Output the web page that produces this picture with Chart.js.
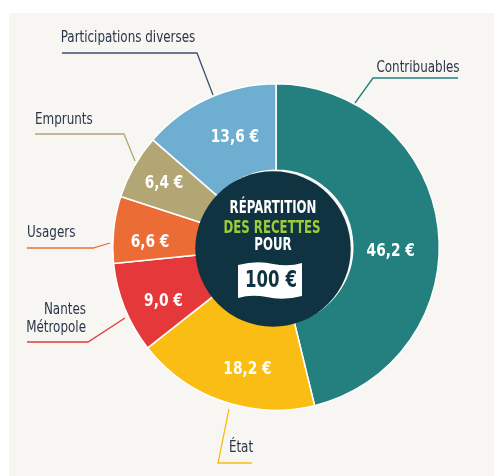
<!DOCTYPE html>
<html>
<head>
<meta charset="utf-8">
<script src="https://cdn.jsdelivr.net/npm/chart.js@4.4.0/dist/chart.umd.min.js"></script>
<style>
  html, body { margin: 0; padding: 0; background: #ffffff; }
  #wrap { position: relative; width: 494px; height: 476px; overflow: hidden; }
  #panel { position: absolute; left: 9px; top: 13px; right: 0; bottom: 0; background: #f7f6f2; }
  #graph { position: absolute; left: 0; top: 0; }
</style>
</head>
<body>
<div id="wrap">
  <div id="panel"></div>
  <canvas id="graph" width="494" height="476"></canvas>
</div>
<script>
var categories = ["Contribuables", "État", "Nantes Métropole", "Usagers", "Emprunts", "Participations diverses"];
var values = [46.2, 18.2, 9.0, 6.6, 6.4, 13.6];
var colors = ["#23807f", "#f9bd14", "#e4383a", "#ec6c35", "#b2a675", "#6eaed0"];

var FONT = "'DejaVu Sans Condensed', 'DejaVu Sans', sans-serif";

// where the value text sits: share of the ring width, and a small turn (degrees) off the slice middle
var labelRadius = [0.44, 0.57, 0.56, 0.57, 0.6, 0.47];
var labelTurn = [9, -6, -4, -4, 0, 4];

// callout lines + names drawn around the ring
var callouts = [
  { text: ["Contribuables"], tx: 418, ty: 68, align: "center", color: "#23807f", pts: [[355, 103], [373, 78], [458, 78]] },
  { text: ["État"], tx: 241, ty: 448, align: "center", color: "#f9bd14", pts: [[229, 409], [218, 463], [252, 463]] },
  { text: ["Nantes", "Métropole"], tx: 86, ty: 310, align: "right", color: "#e4383a", pts: [[125, 318], [88, 342], [27, 342]] },
  { text: ["Usagers"], tx: 27, ty: 233, align: "left", color: "#ec6c35", pts: [[110, 243], [93, 248], [27, 248]] },
  { text: ["Emprunts"], tx: 35, ty: 120, align: "left", color: "#b2a675", pts: [[135, 161], [124, 134], [35, 134]] },
  { text: ["Participations diverses"], tx: 128, ty: 38, align: "center", color: "#3e4f6e", pts: [[213, 95], [197, 53], [62, 53]] }
];

function fmt(v) {
  return v.toFixed(1).replace(".", ",") + " €";
}

// condensed text: squeeze horizontally around the anchor
function narrowText(ctx, str, x, y, sx) {
  ctx.save();
  ctx.translate(x, y);
  ctx.scale(sx, 1);
  ctx.fillText(str, 0, 0);
  ctx.restore();
}

var ringPlugin = {
  id: "ringDecor",
  afterDatasetsDraw: function(chart) {
    var ctx = chart.ctx;
    var meta = chart.getDatasetMeta(0);
    var first = meta.data[0];
    var cx = first.x, cy = first.y;
    var inner = first.innerRadius, outer = first.outerRadius;

    // dark centre disc
    ctx.save();
    ctx.beginPath();
    ctx.arc(cx - 3, cy + 2, inner + 1, 0, Math.PI * 2);
    ctx.fillStyle = "#0f3340";
    ctx.fill();

    // value labels
    ctx.fillStyle = "#ffffff";
    ctx.font = "bold 18px " + FONT;
    ctx.textAlign = "center";
    ctx.textBaseline = "middle";
    meta.data.forEach(function(arc, i) {
      var a = (arc.startAngle + arc.endAngle) / 2 + labelTurn[i] * Math.PI / 180;
      var r = inner + (outer - inner) * labelRadius[i];
      narrowText(ctx, fmt(values[i]), cx + Math.cos(a) * r, cy + Math.sin(a) * r, 0.85);
    });

    // centre texts
    ctx.font = "bold 17px " + FONT;
    ctx.fillStyle = "#ffffff";
    narrowText(ctx, "RÉPARTITION", cx - 3, cy - 38, 0.77);
    ctx.fillStyle = "#9ccb3c";
    narrowText(ctx, "DES RECETTES", cx - 4, cy - 18, 0.77);
    ctx.fillStyle = "#ffffff";
    narrowText(ctx, "POUR", cx - 3, cy - 1, 0.77);

    // banner
    var bx = cx - 38, by = cy + 16, bw = 64, bh = 35;
    ctx.beginPath();
    ctx.moveTo(bx, by + 2);
    ctx.quadraticCurveTo(bx + bw * 0.3, by - 3, bx + bw * 0.55, by + 1);
    ctx.quadraticCurveTo(bx + bw * 0.8, by + 4, bx + bw, by);
    ctx.lineTo(bx + bw, by + bh - 2);
    ctx.quadraticCurveTo(bx + bw * 0.7, by + bh + 3, bx + bw * 0.45, by + bh - 1);
    ctx.quadraticCurveTo(bx + bw * 0.2, by + bh - 4, bx, by + bh);
    ctx.closePath();
    ctx.fillStyle = "#ffffff";
    ctx.fill();
    ctx.fillStyle = "#0f3340";
    ctx.font = "bold 23px " + FONT;
    narrowText(ctx, "100 €", bx + bw / 2 + 1, by + bh / 2 + 1, 0.8);

    // callouts
    ctx.lineWidth = 1.3;
    callouts.forEach(function(c) {
      ctx.strokeStyle = c.color;
      ctx.beginPath();
      c.pts.forEach(function(p, k) {
        if (k === 0) ctx.moveTo(p[0], p[1]); else ctx.lineTo(p[0], p[1]);
      });
      ctx.stroke();
      ctx.fillStyle = "#2a3547";
      ctx.font = "16px " + FONT;
      ctx.textAlign = c.align;
      c.text.forEach(function(t, k) {
        narrowText(ctx, t, c.tx, c.ty + k * 18, 0.83);
      });
    });
    ctx.restore();
  }
};

var ctx1 = document.getElementById("graph").getContext("2d");

var chartData = {
  labels: categories,
  datasets: [{
    data: values,
    backgroundColor: colors,
    borderColor: "#ffffff",
    borderWidth: 1.5
  }]
};

var myChart = new Chart(ctx1, {
  type: "doughnut",
  data: chartData,
  options: {
    responsive: false,
    animation: false,
    cutout: "47%",
    layout: { padding: { left: 112, right: 54, top: 83, bottom: 65 } },
    plugins: {
      legend: { display: false },
      tooltip: { enabled: false }
    }
  },
  plugins: [ringPlugin]
});
</script>
</body>
</html>
